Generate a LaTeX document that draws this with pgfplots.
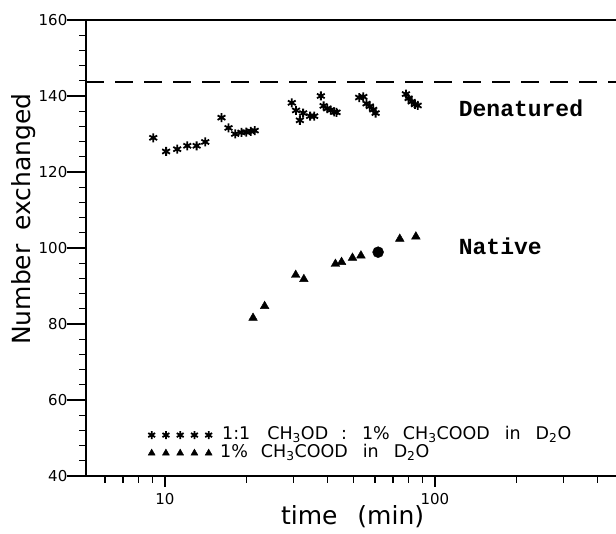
\documentclass[border=0pt]{standalone}
\usepackage{fontspec}
\setmainfont{DejaVu Sans}
\newfontfamily\monob{Liberation Mono}
\usepackage{pgfplots}
\pgfplotsset{compat=1.18}
\begin{document}
\begin{tikzpicture}
\begin{axis}[
  name=ax,
  width=530pt, height=456pt, scale only axis,
  xmode=log, xmin=5.1, xmax=468.5, ymin=40, ymax=160,
  axis x line*=box, axis y line*=left,
  xtick pos=bottom,
  xtick={10,100}, xticklabels={10,100},
  minor xtick={6,7,8,9,20,30,40,50,60,70,80,90,200,300,400},
  ytick={40,60,...,160}, minor y tick num=4,
  tick align=outside, major tick length=11pt, minor tick length=7pt,
  tick style={line width=1.3pt, black},
  axis line style={line width=2pt},
  ticklabel style={font=\fontsize{15}{15}\selectfont},
  xticklabel style={yshift=-3pt},
  yticklabel style={inner sep=0pt},
  yticklabel={\pgfmathprintnumber{\tick}\rule[0.33em]{7.5pt}{1.3pt}},
  /pgf/number format/assume math mode=true,
  xlabel={time\hspace{20pt}(min)},
  xlabel style={at={(rel axis cs:0.503,0)}, anchor=base, yshift=-49pt, font=\fontsize{25}{25}\selectfont},
  ylabel={Number\hspace{14pt}exchanged},
  ylabel style={at={(rel axis cs:-0.118,0.5636)}, anchor=center, font=\fontsize{25}{25}\selectfont},
  legend style={at={(rel axis cs:0.117,0.07)}, anchor=west, draw=none, fill=none, inner sep=0pt,
    font=\fontsize{17.5}{17.5}\selectfont, row sep=2.5pt,
    nodes={inner xsep=2pt, inner ysep=0pt, text height=12.5pt, text depth=3pt}},
  legend cell align=left,
  legend image code/.code={\draw[#1, mark size=4pt] plot[only marks] coordinates {(0pt,0pt)(14.25pt,0pt)(28.5pt,0pt)(42.75pt,0pt)(57pt,0pt)};},
]
\addplot[only marks, mark=asterisk, mark size=4.5pt, mark options={line width=1.8pt}] coordinates {
(9.05,129.0)(10.1,125.4)(11.1,126.0)(12.1,126.9)(13.1,126.9)(14.1,127.9)
(16.2,134.3)(17.2,131.6)(18.2,130.0)(19.2,130.4)(20.0,130.5)(20.8,130.7)(21.5,130.9)
(29.5,138.2)(30.6,136.2)(31.6,133.6)(32.5,135.5)(34.5,134.7)(35.7,134.7)
(37.8,140.0)(38.7,137.4)(39.9,136.7)(41.1,136.3)(42.4,135.8)(43.2,135.7)
(52.4,139.6)(54.3,139.8)(55.8,138.0)(57.4,137.3)(59.1,136.4)(60.3,135.5)
(78.1,140.5)(79.9,139.4)(82.0,138.5)(84.3,137.8)(86.3,137.5)
};
\addlegendentry{\hspace{8pt}1:1\hspace{17pt}CH\textsubscript{3}OD\hspace{13pt}:\hspace{15pt}1\%\hspace{13pt}CH\textsubscript{3}COOD\hspace{15pt}in\hspace{15pt}D\textsubscript{2}O}
\addplot[only marks, mark=triangle*, mark size=5pt] coordinates {
(21.2,81.6)(23.4,84.7)(30.5,92.9)(32.7,91.8)(42.8,95.8)(45.1,96.3)
(49.5,97.4)(53.2,98.0)(74.1,102.4)(85.0,103.0)
};
\addlegendentry{\hspace{6pt}1\%\hspace{13pt}CH\textsubscript{3}COOD\hspace{15pt}in\hspace{15pt}D\textsubscript{2}O}
\addplot[forget plot, only marks, mark=*, mark size=5.5pt] coordinates {(61.6,98.9)};
\addplot[forget plot, black, line width=2pt, dash pattern=on 18pt off 11pt] coordinates {(5.1,143.7)(468.5,143.7)};
\node[anchor=base west, font=\monob\bfseries\fontsize{23}{23}\selectfont] at (axis cs:119,134.5) {Denatured};
\node[anchor=base west, font=\monob\bfseries\fontsize{23}{23}\selectfont] at (axis cs:119,98.2) {Native};
\end{axis}
\pgfresetboundingbox
\path[use as bounding box] ([shift={(-86pt,-58pt)}]ax.south west) rectangle ([shift={(0pt,20pt)}]ax.north east);
\end{tikzpicture}
\end{document}
